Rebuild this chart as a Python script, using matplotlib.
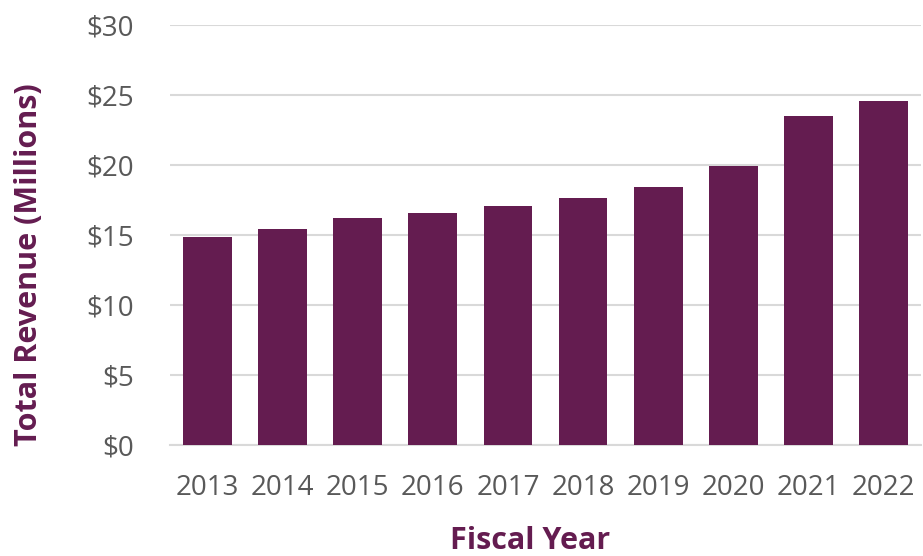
import matplotlib
matplotlib.use("Agg")
import matplotlib.pyplot as plt
from matplotlib.ticker import FuncFormatter, MultipleLocator

# Total revenue by fiscal year, in millions of dollars
years = ["2013", "2014", "2015", "2016", "2017", "2018", "2019", "2020", "2021", "2022"]
revenue = [14.88, 15.43, 16.19, 16.55, 17.10, 17.62, 18.40, 19.93, 23.48, 24.57]

PURPLE = "#641C50"
TICK_GRAY = "#595959"
GRID_GRAY = "#D9D9D9"

plt.rcParams["font.family"] = ["Open Sans", "DejaVu Sans"]

fig = plt.figure(figsize=(9.23, 5.56), dpi=100)
ax = fig.add_axes([0.1842, 0.1996, 0.8136, 0.7554])

x = range(len(years))
ax.bar(x, revenue, width=0.65, color=PURPLE, zorder=3)

ax.set_xlim(-0.5, len(years) - 0.5)
ax.set_ylim(0, 30)
ax.yaxis.set_major_locator(MultipleLocator(5))
ax.yaxis.set_major_formatter(FuncFormatter(lambda v, _: f"${v:.0f}"))
ax.set_xticks(list(x))
ax.set_xticklabels(years)

ax.grid(axis="y", color=GRID_GRAY, linewidth=1.5, zorder=0)
for side in ("top", "right", "left"):
    ax.spines[side].set_visible(False)
ax.spines["bottom"].set_color(GRID_GRAY)
ax.spines["bottom"].set_linewidth(1.5)

ax.tick_params(axis="both", length=0, labelsize=20, labelcolor=TICK_GRAY)
ax.tick_params(axis="x", pad=21)
ax.tick_params(axis="y", pad=26)

ax.set_xlabel("Fiscal Year", fontsize=22, fontweight="bold", color=PURPLE)
ax.set_ylabel("Total Revenue (Millions)", fontsize=22, fontweight="bold", color=PURPLE)
ax.xaxis.set_label_coords(0.479, -0.192)
ax.yaxis.set_label_coords(-0.168, 0.4286)

fig.savefig("out.png", dpi=100, facecolor="white")
